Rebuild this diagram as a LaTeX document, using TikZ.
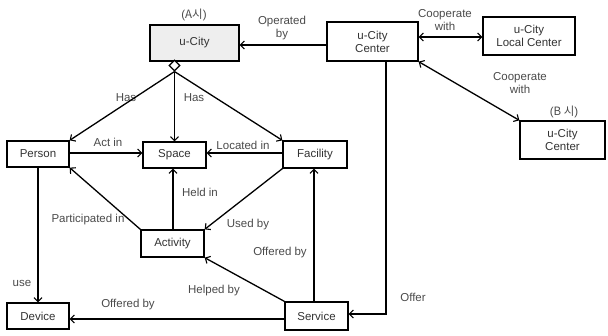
\documentclass[tikz,border=0pt]{standalone}
\usepackage{fontspec}
\setmainfont{Liberation Sans}
\newfontfamily\kr{Noto Sans CJK KR}
\usetikzlibrary{shapes.geometric,arrows.meta}
\definecolor{boxtext}{HTML}{333333}
\definecolor{lbltext}{HTML}{4A4A4A}
\definecolor{boxfill}{HTML}{EEEEEE}
\tikzset{
  ent/.style={draw=black, line width=1.3pt, fill=white, text=boxtext, inner sep=0pt, align=center,
    font=\fontsize{11.5}{13}\selectfont},
  lbl/.style={text=lbltext, inner sep=0pt, align=center, font=\fontsize{11.5}{13}\selectfont},
  conn/.style={line width=1.3pt, -{Straight Barb[length=4pt,width=8pt,line width=1.1pt]}},
  conn2/.style={line width=1.3pt, {Straight Barb[length=4pt,width=8pt,line width=1.1pt]}-{Straight Barb[length=4pt,width=8pt,line width=1.1pt]}},
}
\begin{document}
\begin{tikzpicture}[x=1pt,y=-1pt]
\useasboundingbox (0,0) rectangle (608,335);
% nodes
\node[ent, fill=boxfill, minimum width=89pt, minimum height=36pt] (ua) at (194.5,43) {u-City};
\node[ent, minimum width=91pt, minimum height=39pt] (cen) at (372.5,41.5) {u-City\\Center};
\node[ent, minimum width=92pt, minimum height=38pt] (loc) at (529,36) {u-City\\Local Center};
\node[ent, minimum width=85pt, minimum height=38pt] (bcen) at (562.5,140) {u-City\\Center};
\node[ent, minimum width=62pt, minimum height=26pt] (person) at (38,154) {Person};
\node[ent, minimum width=63pt, minimum height=26pt] (space) at (174.5,155) {Space};
\node[ent, minimum width=64pt, minimum height=27pt] (fac) at (315,154.5) {Facility};
\node[ent, minimum width=63pt, minimum height=27pt] (act) at (172.5,243.5) {Activity};
\node[ent, minimum width=62pt, minimum height=26pt] (dev) at (38,316) {Device};
\node[ent, minimum width=63pt, minimum height=28pt] (serv) at (316.5,316) {Service};
\node[draw=black, line width=1.1pt, fill=white, shape=diamond, inner sep=0pt, minimum size=11pt] (dia) at (174.5,65.5) {};
% labels
\node[lbl] (la) at (194,15) {({\kr A시})};
\node[lbl] (lb) at (564,112) {({\kr B 시})};
\node[lbl] (lop) at (282,28) {Operated\\by};
\node[lbl] (lc1) at (445,20) {Cooperate\\with};
\node[lbl] (lc2) at (520,83) {Cooperate\\with};
\node[lbl] (lh1) at (126,98) {Has};
\node[lbl] (lh2) at (194,98) {Has};
\node[lbl] (lact) at (108,142) {Act in};
\node[lbl] (lloc) at (243,145) {Located in};
\node[lbl] (lheld) at (200,192) {Held in};
\node[lbl] (lpart) at (88,220) {Participated in};
\node[lbl] (lused) at (248,225) {Used by};
\node[lbl] (loff1) at (280,253) {Offered by};
\node[lbl] (lhelp) at (214,291) {Helped by};
\node[lbl] (loff2) at (128,305) {Offered by};
\node[lbl] (luse) at (22,283) {use};
\node[lbl] (loffer) at (413,297) {Offer};
% connectors
\draw[conn] (cen.west |- 0,45) -- (ua.east |- 0,45);
\draw[conn2] (cen.east |- 0,37) -- (loc.west |- 0,37);
\draw[conn2] (cen.south east) -- (bcen.north west);
\coordinate (oc) at (386,314);
\draw[conn] (cen.south -| oc) -- (oc) -- (serv.east |- oc);
\draw[conn] (dia.south) -- (person.north east);
\draw[conn] (dia.south) -- (space.north);
\draw[conn] (dia.south) -- (fac.north west);
\draw[conn] (person.east |- 0,153) -- (space.west |- 0,153);
\draw[conn] (fac.west |- 0,153) -- (space.east |- 0,153);
\draw[conn] (act.north -| 173,0) -- (space.south -| 173,0);
\draw[conn] (act.north west) -- (person.south east);
\draw[conn] (fac.south west) -- (act.north east);
\draw[conn] (serv.north -| 314,0) -- (fac.south -| 314,0);
\draw[conn] (serv.north west) -- (act.south east);
\draw[conn] (serv.west |- 0,319) -- (dev.east |- 0,319);
\draw[conn] (person.south -| 38,0) -- (dev.north -| 38,0);
\end{tikzpicture}
\end{document}
